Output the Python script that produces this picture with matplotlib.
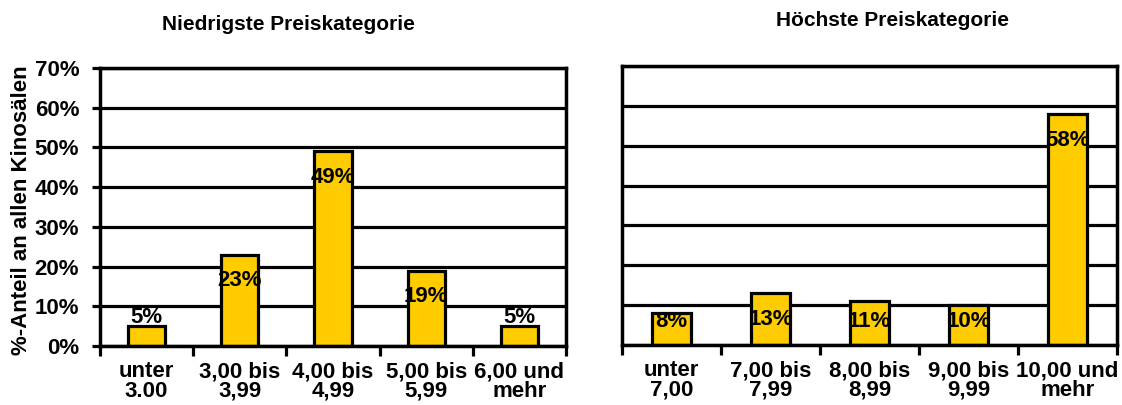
import numpy as np
import matplotlib
matplotlib.use("Agg")
import matplotlib.pyplot as plt

plt.rcParams['font.family'] = ['Liberation Sans', 'DejaVu Sans']
plt.rcParams['font.weight'] = 'bold'

low_labels = ["unter\n3.00", "3,00 bis\n3,99", "4,00 bis\n4,99", "5,00 bis\n5,99", "6,00 und\nmehr"]
low_values = [5, 23, 49, 19, 5]
high_labels = ["unter\n7,00", "7,00 bis\n7,99", "8,00 bis\n8,99", "9,00 bis\n9,99", "10,00 und\nmehr"]
high_values = [8, 13, 11, 10, 58]

title_low = "Niedrigste Preiskategorie"
title_high = "Höchste Preiskategorie"
ylabel = "%-Anteil an allen Kinosälen"

bar_color = "#FFCC00"
fs = 16

fig = plt.figure(figsize=(11.22, 4.05), dpi=100)
ax1 = fig.add_axes([100/1122, 59/405, 466/1122, 278/405])
ax2 = fig.add_axes([622/1122, 60/405, 495/1122, 279/405])


def draw(ax, labels, values, show_y):
    ind = np.arange(len(values))
    ax.set_axisbelow(True)
    for v in range(0, 71, 10):
        ax.axhline(v, color="black", lw=2.3, zorder=0)
    ax.bar(ind, values, 0.4, color=bar_color, edgecolor="black", linewidth=2.3, zorder=2)
    for i, v in zip(ind, values):
        if v <= 5:
            y = v + 2.3
        else:
            y = max(v - 6.6, 5.8)
        ax.text(i, y, f"{v}%", ha="center", va="center", fontsize=fs,
                fontweight="bold", zorder=3)
    ax.set_xlim(-0.5, len(values) - 0.5)
    ax.set_ylim(0, 70)
    ax.set_xticks(ind)
    ax.set_xticklabels(labels, fontsize=fs, fontweight="bold", linespacing=0.92)
    ax.set_xticks(np.arange(len(values) + 1) - 0.5, minor=True)
    ax.tick_params(axis="x", which="major", length=0, pad=11)
    ax.tick_params(axis="x", which="minor", length=7, width=2.3, direction="out")
    for sp in ax.spines.values():
        sp.set_linewidth(2.5)
        sp.set_color("black")
    ax.set_yticks(range(0, 71, 10))
    if show_y:
        ax.set_yticklabels([f"{v}%" for v in range(0, 71, 10)], fontsize=fs, fontweight="bold")
        ax.tick_params(axis="y", length=6, width=2.3, direction="out", pad=9)
    else:
        ax.set_yticklabels([])
        ax.tick_params(axis="y", length=0)


draw(ax1, low_labels, low_values, True)
draw(ax2, high_labels, high_values, False)

fig.text(288/1122, 1 - 24/405, title_low, ha="center", va="center", fontsize=15, fontweight="bold")
fig.text(893/1122, 1 - 20/405, title_high, ha="center", va="center", fontsize=15, fontweight="bold")
fig.text(22/1122, 1 - 210/405, ylabel, ha="center", va="center", rotation=90,
         fontsize=fs, fontweight="bold")

fig.savefig("out.png", dpi=100)
